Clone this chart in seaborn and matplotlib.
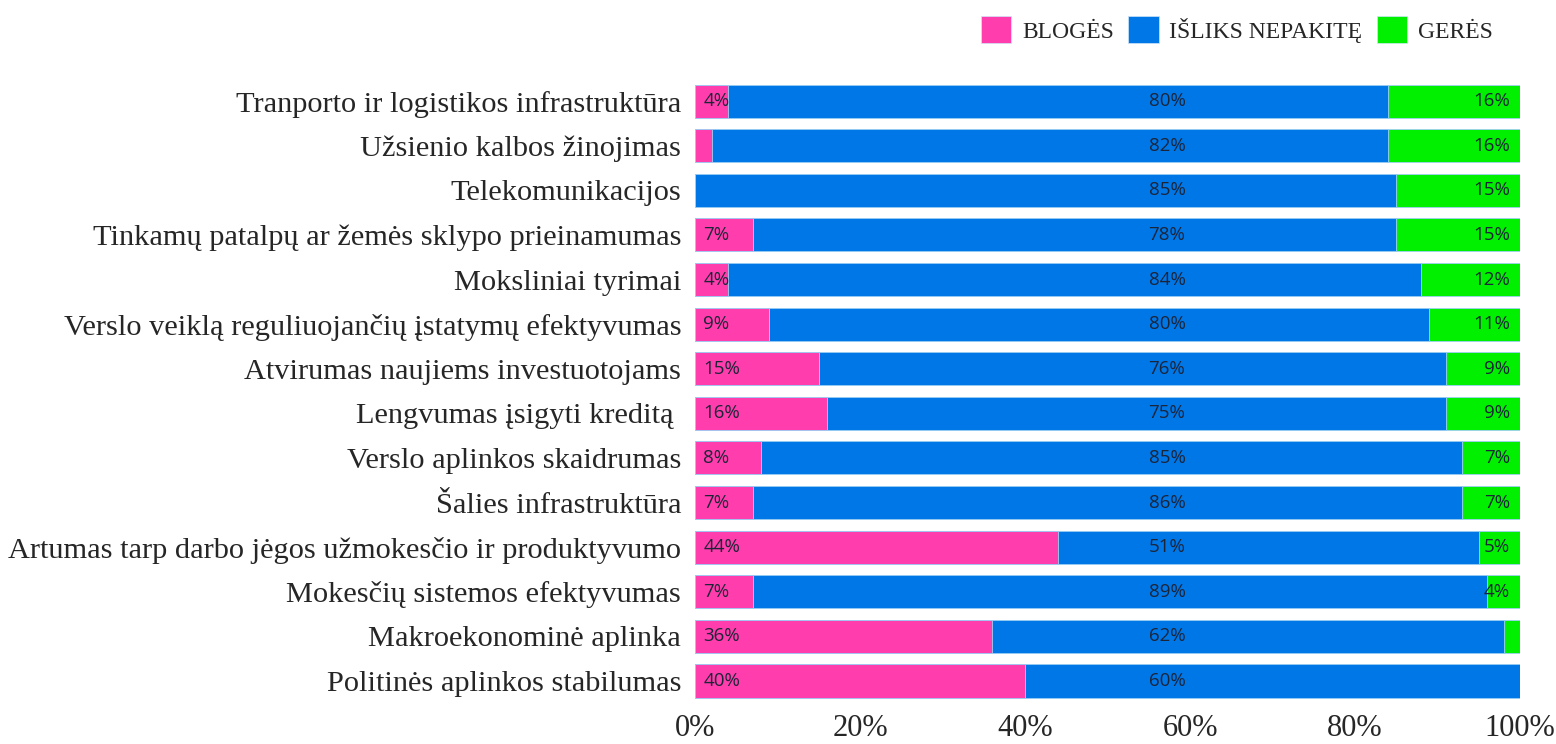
import matplotlib
matplotlib.use("Agg")
import matplotlib.pyplot as plt
import matplotlib.patches as mpatches
import seaborn as sns
import pandas as pd
import numpy as np

categories = [
    "Tranporto ir logistikos infrastruktūra",
    "Užsienio kalbos žinojimas",
    "Telekomunikacijos",
    "Tinkamų patalpų ar žemės sklypo prieinamumas",
    "Moksliniai tyrimai",
    "Verslo veiklą reguliuojančių įstatymų efektyvumas",
    "Atvirumas naujiems investuotojams",
    "Lengvumas įsigyti kreditą ",
    "Verslo aplinkos skaidrumas",
    "Šalies infrastruktūra",
    "Artumas tarp darbo jėgos užmokesčio ir produktyvumo",
    "Mokesčių sistemos efektyvumas",
    "Makroekonominė aplinka",
    "Politinės aplinkos stabilumas",
]
blogs = [4, 2, 0, 7, 4, 9, 15, 16, 8, 7, 44, 7, 36, 40]
nepakite = [80, 82, 85, 78, 84, 80, 76, 75, 85, 86, 51, 89, 62, 60]
geres = [16, 16, 15, 15, 12, 11, 9, 9, 7, 7, 5, 4, 2, 0]
series_names = ["BLOGĖS", "IŠLIKS NEPAKITĘ", "GERĖS"]
tick_vals = [0, 20, 40, 60, 80, 100]
tick_labels = ["0%", "20%", "40%", "60%", "80%", "100%"]

colors = ["#FF3DAD", "#0077E6", "#00F000"]

df = pd.DataFrame({"cat": categories, "b": blogs, "n": nepakite, "g": geres})
df["c1"] = df["b"]
df["c2"] = df["b"] + df["n"]
df["c3"] = df["b"] + df["n"] + df["g"]

sns.set_theme(style="white")
plt.rcParams["font.family"] = ["Liberation Serif", "DejaVu Serif"]

fig = plt.figure(figsize=(15.56, 7.44), dpi=100)
ax = fig.add_axes([0.4467, 0.0547, 0.5302, 0.8393])

for col, c in zip(["c3", "c2", "c1"], colors[::-1]):
    sns.barplot(data=df, x=col, y="cat", orient="h", color=c, saturation=1,
                width=0.74, ax=ax, edgecolor="#9fd0f5", linewidth=0.6)

ax.set_xlim(0, 100)
ax.set_ylim(len(categories) - 0.5, -0.5)
ax.set_xlabel("")
ax.set_ylabel("")
ax.set_xticks(tick_vals)
ax.set_xticklabels(tick_labels, fontsize=22)
ax.tick_params(axis="x", length=0, pad=8)
ax.tick_params(axis="y", length=0, pad=10, labelsize=21.9)
for s in ax.spines.values():
    s.set_visible(False)
ax.grid(False)

lab_font = dict(family=["Open Sans", "DejaVu Sans"], fontsize=13.5, color="#1c2438", va="center")
for i in range(len(categories)):
    if blogs[i] >= 3:
        ax.text(1.0, i, f"{blogs[i]}%", ha="left", **lab_font)
    if nepakite[i] >= 3:
        ax.text(57.2, i, f"{nepakite[i]}%", ha="center", **lab_font)
    if geres[i] >= 3:
        ax.text(98.8, i, f"{geres[i]}%", ha="right", **lab_font)

handles = [mpatches.Patch(facecolor=c, edgecolor="#cfe6fa", linewidth=0.5) for c in colors]
fig.legend(handles, series_names, loc="upper right", bbox_to_anchor=(0.973, 1.007),
           ncol=3, frameon=False, fontsize=17, handlelength=1.3, handleheight=1.4,
           handletextpad=0.45, columnspacing=0.6)

fig.savefig("out.png", dpi=100)
